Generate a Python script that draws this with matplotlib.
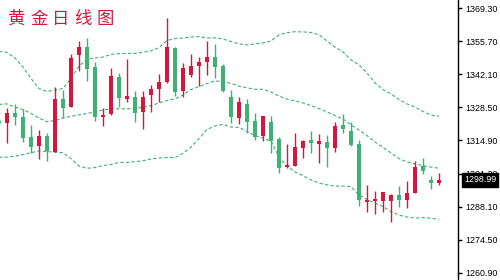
import matplotlib
matplotlib.use("Agg")
import matplotlib.pyplot as plt
import matplotlib.transforms as mtransforms
import numpy as np

# daily gold candles (price units)
opens = [1323.1, 1322.4, 1326.4, 1324.7, 1316.5, 1313.0, 1316.9, 1310.3, 1332.1, 1329.0,
         1350.0, 1353.4, 1345.2, 1324.9, 1326.1, 1341.1, 1332.1, 1332.9, 1326.9, 1333.9,
         1336.2, 1339.1, 1353.0, 1335.5, 1342.1, 1345.8, 1347.4, 1349.3, 1345.6, 1332.9,
         1324.4, 1330.1, 1323.1, 1317.1, 1322.7, 1315.8, 1304.2, 1304.8, 1312.1, 1315.3,
         1313.8, 1314.5, 1312.1, 1321.5, 1319.0, 1313.7, 1290.0, 1290.4, 1290.4, 1290.4,
         1292.8, 1290.8, 1293.7, 1304.8, 1298.9, 1297.7]
highs = [1323.9, 1328.3, 1329.9, 1328.0, 1321.5, 1319.4, 1318.1, 1336.9, 1335.8, 1350.6,
         1355.9, 1357.1, 1347.3, 1328.3, 1344.7, 1342.8, 1348.4, 1335.4, 1335.4, 1337.9,
         1342.4, 1365.3, 1353.4, 1346.9, 1350.6, 1349.3, 1355.9, 1354.7, 1346.5, 1335.8,
         1332.9, 1332.1, 1326.4, 1325.1, 1325.1, 1316.7, 1313.7, 1318.2, 1315.4, 1319.0,
         1317.8, 1317.4, 1322.7, 1326.0, 1322.7, 1315.3, 1296.9, 1294.5, 1294.0, 1293.2,
         1296.4, 1298.5, 1306.7, 1307.9, 1300.5, 1301.8]
lows = [1321.5, 1314.2, 1321.5, 1314.6, 1309.9, 1307.4, 1306.8, 1310.3, 1324.4, 1329.0,
        1343.4, 1339.6, 1323.2, 1321.2, 1325.7, 1329.0, 1331.0, 1322.8, 1319.9, 1326.9,
        1331.0, 1338.8, 1333.5, 1333.1, 1341.3, 1337.6, 1342.1, 1340.8, 1335.1, 1322.1,
        1322.0, 1318.3, 1315.4, 1315.0, 1310.1, 1301.9, 1303.9, 1304.8, 1308.0, 1310.1,
        1306.0, 1304.4, 1310.5, 1318.2, 1313.0, 1288.4, 1285.9, 1285.1, 1285.9, 1281.8,
        1288.0, 1287.5, 1293.7, 1301.5, 1295.3, 1297.0]
closes = [1322.3, 1326.4, 1324.7, 1316.2, 1312.6, 1316.9, 1310.9, 1332.1, 1328.5, 1348.8,
          1353.3, 1344.5, 1324.9, 1325.1, 1341.5, 1332.6, 1333.3, 1326.5, 1332.9, 1336.2,
          1339.2, 1353.4, 1335.1, 1344.8, 1345.6, 1347.3, 1349.3, 1345.4, 1335.5, 1324.9,
          1330.9, 1322.8, 1316.7, 1325.1, 1315.0, 1303.9, 1305.1, 1312.6, 1315.0, 1314.2,
          1314.9, 1312.1, 1321.0, 1319.8, 1313.4, 1290.8, 1290.8, 1291.2, 1294.0, 1292.9,
          1290.8, 1293.6, 1304.2, 1302.7, 1297.7, 1298.99]

# bollinger bands as drawn
upper = [1351.6, 1351.2, 1348.9, 1345.2, 1340.5, 1336.4, 1335.2, 1335.8, 1336.4, 1340.7,
         1345.6, 1348.5, 1348.9, 1349.3, 1350.4, 1350.7, 1350.8, 1350.8, 1351.3, 1351.8,
         1353.2, 1356.1, 1356.9, 1357.1, 1357.5, 1357.7, 1357.1, 1357.2, 1356.7, 1355.7,
         1354.7, 1354.3, 1354.7, 1355.1, 1355.9, 1358.4, 1359.3, 1359.7, 1359.6, 1359.4,
         1358.4, 1355.9, 1353.4, 1351.4, 1348.1, 1346.1, 1342.8, 1338.7, 1336.0, 1334.2,
         1331.9, 1330.1, 1328.8, 1327.0, 1325.5, 1325.1]
middle = [1329.9, 1330.1, 1328.8, 1327.8, 1326.2, 1324.3, 1322.8, 1323.3, 1324.3, 1325.0,
          1325.6, 1326.2, 1326.8, 1327.6, 1328.0, 1328.1, 1328.1, 1328.2, 1328.7, 1329.4,
          1330.5, 1331.5, 1332.2, 1333.7, 1336.0, 1337.2, 1338.5, 1339.5, 1339.3, 1338.5,
          1337.4, 1336.7, 1336.1, 1336.1, 1335.0, 1333.3, 1332.1, 1331.3, 1330.5, 1329.4,
          1328.2, 1326.8, 1325.3, 1323.9, 1321.5, 1319.4, 1317.1, 1314.5, 1312.3, 1310.0,
          1307.7, 1306.3, 1305.5, 1304.8, 1304.2, 1303.7]
lower = [1308.2, 1308.3, 1308.7, 1309.3, 1310.1, 1310.8, 1310.6, 1310.3, 1310.1, 1307.7,
         1304.6, 1303.7, 1304.0, 1304.8, 1305.3, 1306.1, 1306.1, 1306.4, 1306.8, 1307.5,
         1307.9, 1308.1, 1308.1, 1309.8, 1312.4, 1315.9, 1319.6, 1321.1, 1321.7, 1320.6,
         1320.5, 1318.8, 1317.1, 1316.1, 1314.9, 1308.3, 1304.6, 1302.2, 1300.7, 1298.9,
         1297.7, 1296.9, 1296.4, 1296.4, 1296.2, 1292.7, 1290.9, 1289.5, 1288.0, 1285.9,
         1284.5, 1283.7, 1283.3, 1283.5, 1283.2, 1282.8]

tick_vals = np.linspace(1260.9, 1369.3, 9)
tick_labels = ["1260.90", "1274.50", "1288.10", "1301.30", "1314.90",
               "1328.50", "1342.10", "1355.70", "1369.30"]
last_price = "1298.99"
title = "黄金日线图"

RED = "#dc143c"
GREEN = "#3cb371"

o = np.array(opens)
h = np.array(highs)
l = np.array(lows)
c = np.array(closes)
x = np.arange(len(o))
colors = np.where(c >= o, RED, GREEN)

fig = plt.figure(figsize=(5, 2.8), dpi=100)
ax = fig.add_axes([0, 0, 458 / 500, 1])

# bands
for band in (upper, middle, lower):
    ax.plot(x, band, color=GREEN, lw=0.8, linestyle=(0, (3, 2)), zorder=1)

# candles
ax.vlines(x, l, h, colors=colors, lw=1, zorder=2)
body = np.maximum(np.abs(c - o), 0.5)
ax.bar(x, body, bottom=np.minimum(o, c), width=0.62, color=colors, lw=0, zorder=3)

ax.set_xlim(0.125, 57.375)
ax.set_ylim(1257.9, 1372.7)

for s in ("top", "left", "bottom"):
    ax.spines[s].set_visible(False)
ax.spines["right"].set_color("black")
ax.spines["right"].set_linewidth(1)
ax.set_xticks([])
ax.yaxis.tick_right()
ax.set_yticks(tick_vals)
ax.set_yticklabels(tick_labels, family="Liberation Sans", fontsize=6.4)
ax.tick_params(axis="y", direction="out", length=3, width=1, pad=2.5, colors="black")

# current price tag
trans = mtransforms.blended_transform_factory(ax.transAxes, ax.transData)
ax.text(1 + 6 / 458, closes[-1], last_price, transform=trans, ha="left", va="center",
        color="white", family="Liberation Sans", fontsize=6.4, clip_on=False, zorder=10,
        bbox=dict(boxstyle="square,pad=0.25", fc="black", ec="black"))

# title, one character at a time
for k, ch in enumerate(title):
    fig.text((8 + 22 * k) / 500, 1 - 19 / 280, ch, color=RED, fontsize=12.5,
             family=["Noto Sans CJK SC", "DejaVu Sans"], ha="left", va="center")

fig.savefig("out.png", dpi=100)
